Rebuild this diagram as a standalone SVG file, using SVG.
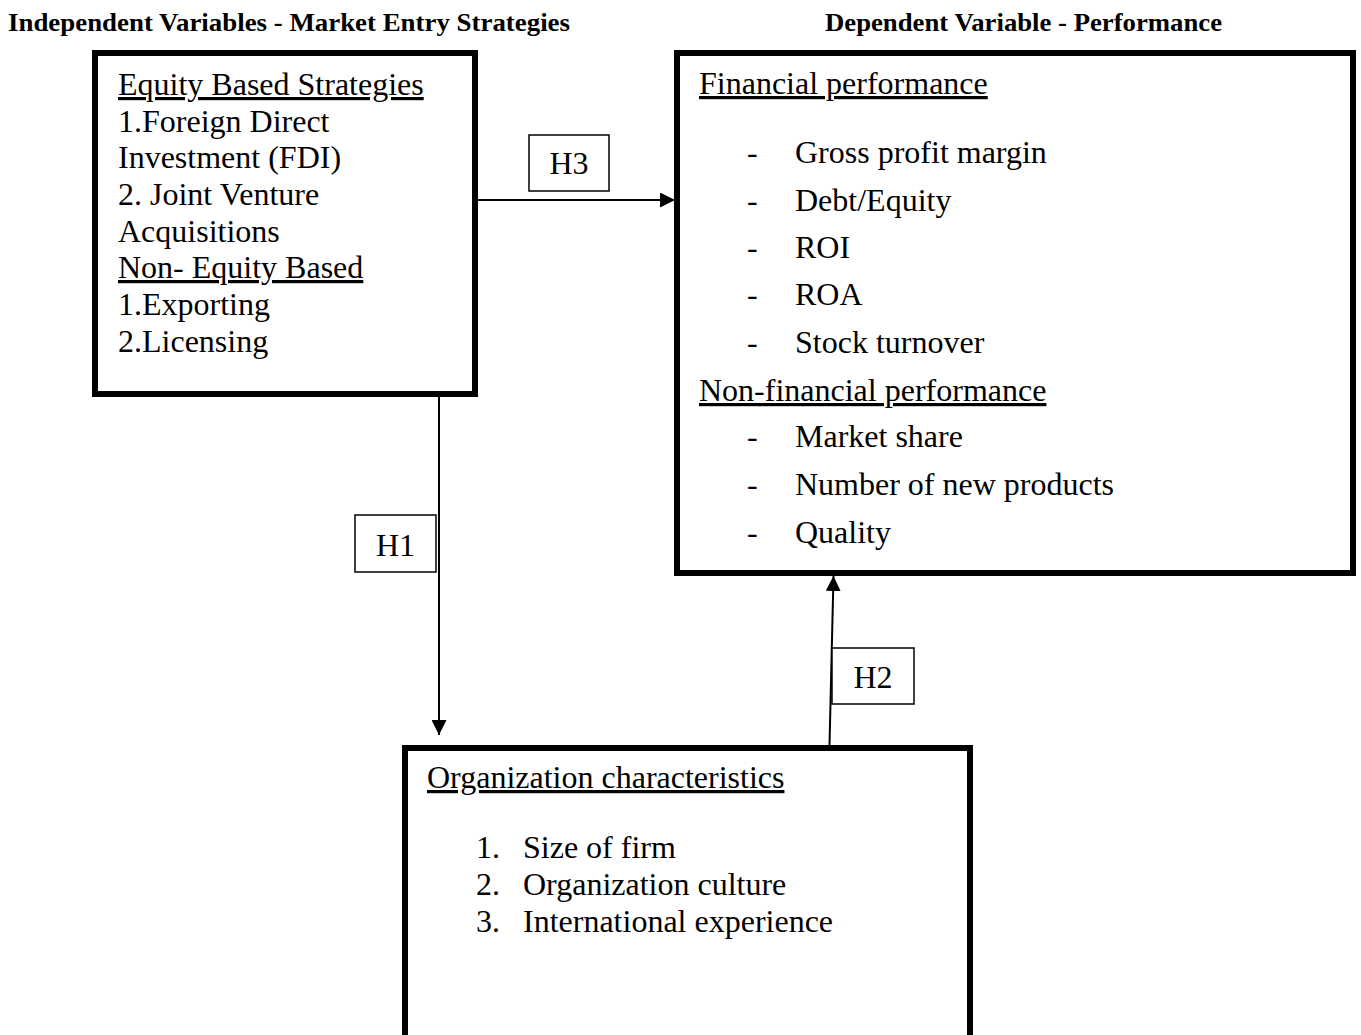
<svg xmlns="http://www.w3.org/2000/svg" width="1361" height="1035" viewBox="0 0 1361 1035">
<style>
.box{fill:#fff;stroke:#000;stroke-width:6}
.lbl{fill:#fff;stroke:#000;stroke-width:1.5}
.t{font-family:"Liberation Serif","Times New Roman",serif;font-size:32px;fill:#000}
.u{text-decoration:underline}
.h{font-family:"Liberation Serif","Times New Roman",serif;font-size:26px;font-weight:bold;fill:#000}
.c{stroke:#000;stroke-width:2;fill:none}
</style>
<defs>
<marker id="ah" viewBox="0 0 10 10" refX="10" refY="5" markerWidth="15" markerHeight="15" markerUnits="userSpaceOnUse" orient="auto">
<path d="M0,0 L10,5 L0,10 z" fill="#000"/>
</marker>
</defs>
<rect width="1361" height="1035" fill="#fff"/>
<g id="titles">
<text class="h" x="8" y="31" textLength="562" lengthAdjust="spacingAndGlyphs">Independent Variables - Market Entry Strategies</text>
<text class="h" x="825" y="31" textLength="397" lengthAdjust="spacingAndGlyphs">Dependent Variable - Performance</text>
</g>
<g id="connectors">
<line class="c" x1="478" y1="200" x2="675" y2="200" marker-end="url(#ah)"/>
<line class="c" x1="439" y1="397" x2="439" y2="735" marker-end="url(#ah)"/>
<line class="c" x1="829.5" y1="745" x2="833.5" y2="576" marker-end="url(#ah)"/>
</g>
<g id="node-independent">
<rect class="box" x="95" y="53" width="380" height="341"/>
<text class="t u" x="118" y="95">Equity Based Strategies</text>
<text class="t" x="118" y="132">1.Foreign Direct</text>
<text class="t" x="118" y="168">Investment (FDI)</text>
<text class="t" x="118" y="205">2. Joint Venture</text>
<text class="t" x="118" y="242">Acquisitions</text>
<text class="t u" x="118" y="278">Non- Equity Based</text>
<text class="t" x="118" y="315">1.Exporting</text>
<text class="t" x="118" y="352">2.Licensing</text>
</g>
<g id="node-performance">
<rect class="box" x="677" y="53" width="676" height="520"/>
<text class="t u" x="699" y="94">Financial performance</text>
<g class="t">
<text x="747" y="163">-</text><text x="795" y="163">Gross profit margin</text>
<text x="747" y="211">-</text><text x="795" y="211">Debt/Equity</text>
<text x="747" y="258">-</text><text x="795" y="258">ROI</text>
<text x="747" y="305">-</text><text x="795" y="305">ROA</text>
<text x="747" y="353">-</text><text x="795" y="353">Stock turnover</text>
</g>
<text class="t u" x="699" y="401">Non-financial performance</text>
<g class="t">
<text x="747" y="447">-</text><text x="795" y="447">Market share</text>
<text x="747" y="495">-</text><text x="795" y="495">Number of new products</text>
<text x="747" y="543">-</text><text x="795" y="543">Quality</text>
</g>
</g>
<g id="node-organization">
<rect class="box" x="405" y="748" width="565" height="320"/>
<text class="t u" x="427" y="788">Organization characteristics</text>
<g class="t">
<text x="476" y="858">1.</text><text x="523" y="858">Size of firm</text>
<text x="476" y="895">2.</text><text x="523" y="895">Organization culture</text>
<text x="476" y="932">3.</text><text x="523" y="932">International experience</text>
</g>
</g>
<g id="label-h3">
<rect class="lbl" x="529" y="135" width="80" height="56"/>
<text class="t" x="569" y="174" text-anchor="middle">H3</text>
</g>
<g id="label-h1">
<rect class="lbl" x="355" y="515" width="81" height="57"/>
<text class="t" x="395.5" y="556" text-anchor="middle">H1</text>
</g>
<g id="label-h2">
<rect class="lbl" x="832" y="648" width="82" height="56"/>
<text class="t" x="873" y="688" text-anchor="middle">H2</text>
</g>
</svg>
